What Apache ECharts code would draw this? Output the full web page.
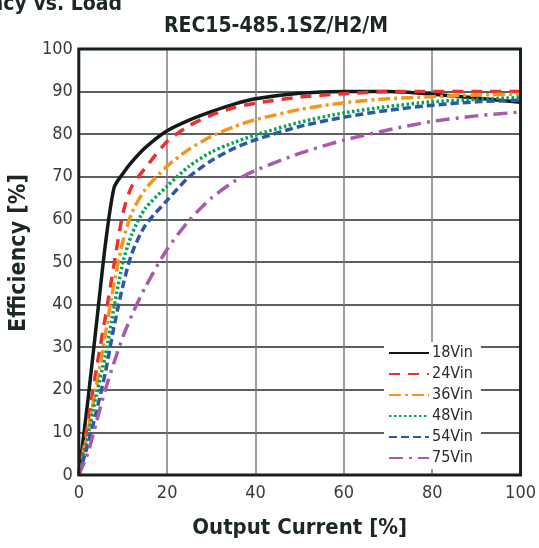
<!DOCTYPE html>
<html>
<head>
<meta charset="utf-8">
<script src="https://cdn.jsdelivr.net/npm/echarts@6/dist/echarts.min.js"></script>
<style>html,body{margin:0;padding:0;background:#fff}#c{width:539px;height:548px}</style>
</head>
<body>
<div id="c"></div>
<script>
const load = [0, 2, 4, 6, 8, 10, 12, 15, 20, 25, 30, 35, 40, 50, 60, 70, 80, 90, 100];
const eff18 = [0, 17, 35.5, 54, 67.5, 70.8, 73.5, 76.8, 80.8, 83.3, 85.3, 87, 88.3, 89.6, 90, 90, 89.4, 88.5, 87.5];
const eff24 = [0, 12, 25, 37, 49.5, 61.5, 67.8, 72, 78.3, 82, 84.5, 86.2, 87.3, 88.7, 89.5, 90, 90, 90, 90];
const eff36 = [0, 10, 21, 33, 45, 55, 61.5, 67, 72.5, 76.5, 79.5, 81.7, 83.4, 85.8, 87.4, 88.3, 88.8, 89.2, 89.4];
const eff48 = [0, 9, 19, 28, 39.5, 50, 56.5, 62.5, 67.8, 72.5, 75.8, 78, 79.8, 82.8, 85, 86.5, 87.6, 88.2, 88.6];
const eff54 = [0, 7, 15, 24, 35, 44.5, 52, 58.5, 64.5, 70, 73.8, 76.6, 78.7, 81.8, 84, 85.6, 86.8, 87.6, 88];
const eff75 = [0, 5, 12.5, 20, 26.5, 32.5, 37.5, 44, 53, 59.8, 65, 68.8, 71.5, 75.5, 78.6, 81, 83, 84.3, 85.2];
const seriesNames = ['18Vin', '24Vin', '36Vin', '48Vin', '54Vin', '75Vin'];
const xTicks = [0, 20, 40, 60, 80, 100];
const yTicks = [0, 10, 20, 30, 40, 50, 60, 70, 80, 90, 100];

const FONT = "'Liberation Sans Narrow', 'DejaVu Sans Condensed', 'Liberation Sans', sans-serif";
const allEff = [eff18, eff24, eff36, eff48, eff54, eff75];
const styles = [
  {color: '#111a19', type: 'solid'},
  {color: '#e8322f', type: [11, 8]},
  {color: '#f7941d', type: [12, 4, 3, 4]},
  {color: '#00a651', type: [2.5, 2.5]},
  {color: '#2d58a7', type: [8, 4]},
  {color: '#a95aa8', type: [14, 6, 3, 6]}
];
const series = seriesNames.map((n, i) => ({
  name: n,
  type: 'line',
  smooth: 0.25,
  symbol: 'none',
  data: load.map((x, k) => [x, allEff[i][k]]),
  lineStyle: {color: styles[i].color, width: 3.5, type: styles[i].type},
  itemStyle: {color: styles[i].color},
  z: 3
}));

const chart = echarts.init(document.getElementById('c'), null, {renderer: 'canvas'});
chart.setOption({
  animation: false,
  backgroundColor: '#fff',
  grid: {left: 78, right: 17, top: 49, bottom: 73, show: true, borderColor: '#16201f', borderWidth: 3, backgroundColor: 'transparent', z: 5},
  title: {
    text: 'REC15-485.1SZ/H2/M', left: 271, top: 11, textAlign: 'center',
    textStyle: {fontFamily: FONT, fontSize: 21, fontWeight: 'bold', color: '#1d2726'}
  },
  graphic: [{
    type: 'text', right: 539 - 122, top: -6,
    style: {text: 'Efficiency vs. Load', font: "bold 21px " + FONT, fill: '#1d2726', textAlign: 'right'}
  }],
  legend: {
    orient: 'vertical', left: 384, top: 342,
    backgroundColor: '#fff', padding: [3, 8, 3, 4],
    itemWidth: 40, itemHeight: 12, itemGap: 5,
    itemStyle: {opacity: 0},
    textStyle: {fontFamily: FONT, fontSize: 16, color: '#2a2a2a', padding: [0, 0, 0, -2]},
    data: seriesNames, z: 10
  },
  xAxis: {
    type: 'value', min: 0, max: 100, interval: 20,
    name: 'Output Current [%]', nameLocation: 'middle', nameGap: 42,
    nameTextStyle: {fontFamily: FONT, fontSize: 22, color: '#1d2726', fontWeight: 'bold'},
    axisLine: {show: false}, axisTick: {show: false},
    axisLabel: {fontFamily: FONT, fontSize: 18, color: '#3a3a3a', margin: 9,
      formatter: v => xTicks.includes(v) ? String(v) : ''},
    splitLine: {show: true, lineStyle: {color: '#7a7e7d', width: 1.5}}
  },
  yAxis: {
    type: 'value', min: 0, max: 100, interval: 10,
    name: 'Efficiency [%]', nameLocation: 'middle', nameGap: 46,
    nameTextStyle: {fontFamily: FONT, fontSize: 23, color: '#1d2726', fontWeight: 'bold', padding: [0, 0, 0, 18]},
    axisLine: {show: false}, axisTick: {show: false},
    axisLabel: {fontFamily: FONT, fontSize: 18, color: '#3a3a3a', margin: 6,
      formatter: v => yTicks.includes(v) ? String(v) : ''},
    splitLine: {show: true, lineStyle: {color: '#232b2a', width: 1.5}}
  },
  series: series
});
</script>
</body>
</html>
